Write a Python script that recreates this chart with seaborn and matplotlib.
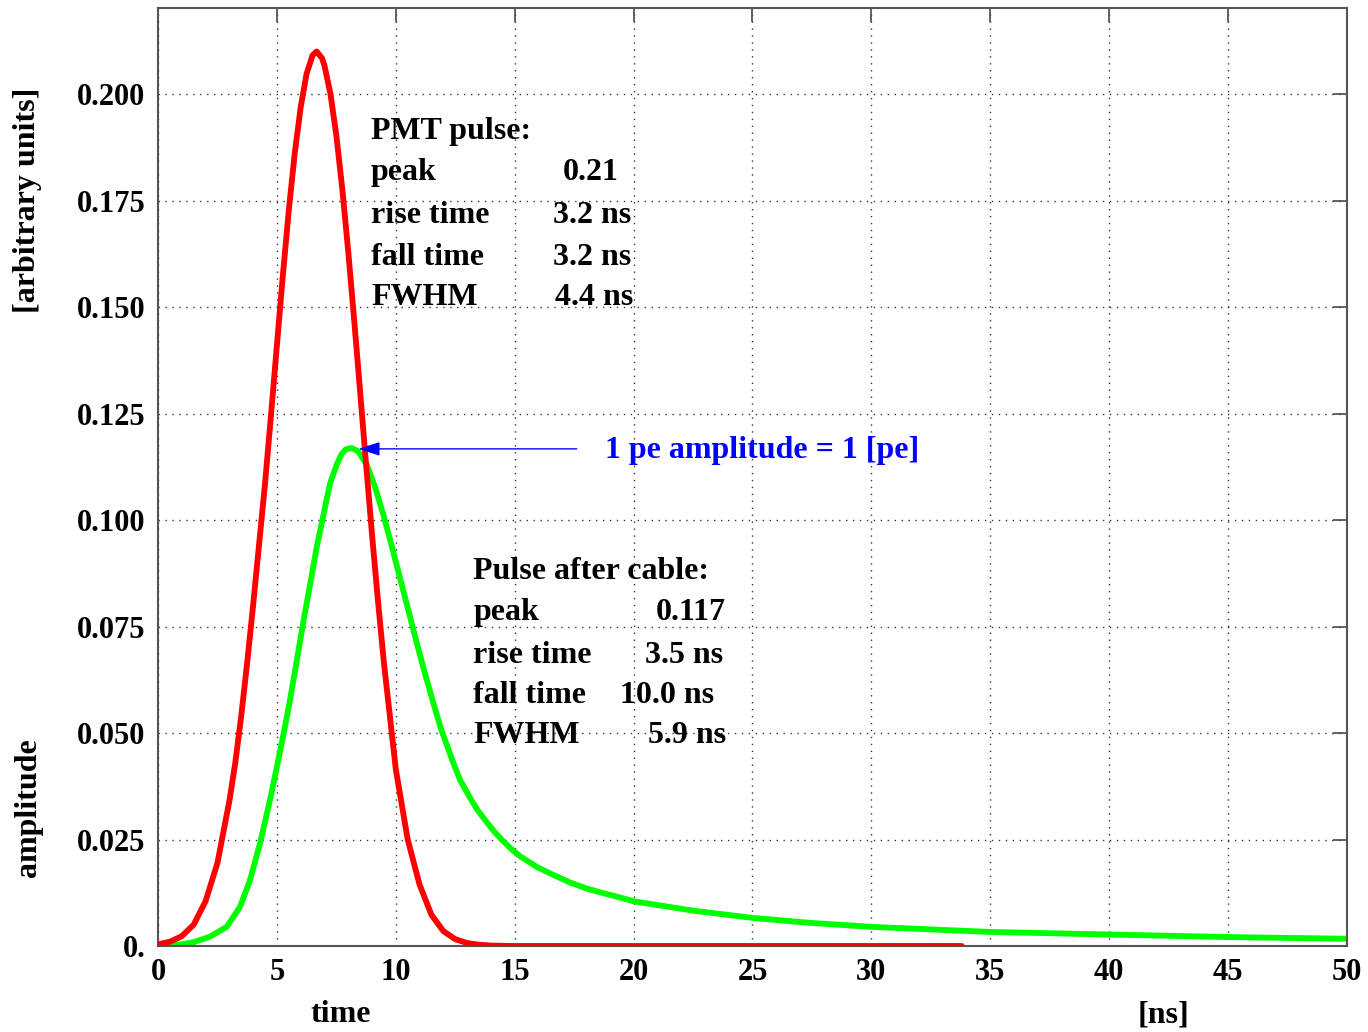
import matplotlib
matplotlib.use("Agg")
import matplotlib.pyplot as plt
import seaborn as sns
import pandas as pd

# ---- data ----
pmt_t = [0, 0.5, 1.0, 1.5, 2.0, 2.5, 3.0, 3.25, 3.5, 3.75, 4.0, 4.5, 4.75, 5.0, 5.25,
         5.5, 5.75, 6.0, 6.25, 6.5, 6.67, 6.9, 7.0, 7.25, 7.5, 7.75, 8.0, 8.25,
         8.5, 8.75, 9.0, 9.25, 9.5, 10.0, 10.5, 11.0, 11.5, 12.0, 12.5, 13.0,
         13.5, 14.0, 15.0, 20.0, 25.0, 30.0, 33.8]
pmt_y = [0.0004, 0.0010, 0.0023, 0.0050, 0.0105, 0.0195, 0.0340, 0.0430, 0.0540,
         0.0665, 0.0800, 0.1085, 0.1245, 0.1410, 0.1574, 0.1727, 0.1861, 0.1969,
         0.2048, 0.2091, 0.2100, 0.2084, 0.2067, 0.2001, 0.1903, 0.1777, 0.1630,
         0.1469, 0.1301, 0.1131, 0.0966, 0.0810, 0.0665, 0.0415, 0.0250, 0.0144,
         0.0073, 0.0035, 0.0016, 0.0007, 0.0003, 0.0001, 0.0, 0.0, 0.0, 0.0, 0.0]

cable_t = [0, 0.5, 1.0, 1.5, 2.19, 2.89, 3.45, 3.87, 4.29, 4.71, 5.06, 5.34, 5.55,
           6.11, 6.67, 7.23, 7.5, 7.72, 7.9, 8.14, 8.4, 8.77, 9.1, 9.47, 9.8,
           10.18, 10.88, 11.2, 11.58, 11.9, 12.35, 12.7, 13.12, 13.45, 13.82, 14.15,
           14.52, 14.85, 15.22, 15.92, 16.62, 17.33, 18.03, 18.73, 19.43, 20.0,
           22.5, 25.0, 27.5, 30.0, 35.0, 40.0, 45.0, 50.0]
cable_y = [0.0, 0.0001, 0.0004, 0.0009, 0.0022, 0.0045, 0.0092, 0.0155, 0.0241,
           0.0343, 0.0437, 0.0515, 0.0577, 0.0760, 0.0935, 0.1085, 0.1128, 0.1155,
           0.1166, 0.1169, 0.1162, 0.1131, 0.1082, 0.1014, 0.0945, 0.0863, 0.0712,
           0.0645, 0.0570, 0.0510, 0.0440, 0.0390, 0.0348, 0.0318, 0.0291, 0.0268,
           0.0246, 0.0228, 0.0211, 0.0186, 0.0167, 0.0149, 0.0135, 0.0124, 0.0114,
           0.0105, 0.0083, 0.0066, 0.0054, 0.0045, 0.0033, 0.0027, 0.0021, 0.0017]

xticks = [0, 5, 10, 15, 20, 25, 30, 35, 40, 45, 50]
xtick_labels = ["0", "5", "10", "15", "20", "25", "30", "35", "40", "45", "50"]
yticks = [0.0, 0.025, 0.05, 0.075, 0.1, 0.125, 0.15, 0.175, 0.2]
ytick_labels = ["0.", "0.025", "0.050", "0.075", "0.100", "0.125", "0.150", "0.175", "0.200"]

pmt_labels = ["peak", "rise time", "fall time", "FWHM"]
pmt_values = ["0.21", "3.2 ns", "3.2 ns", "4.4 ns"]
cable_labels = ["peak", "rise time", "fall time", "FWHM"]
cable_values = ["0.117", "3.5 ns", "10.0 ns", "5.9 ns"]

# ---- style ----
sns.set_theme(style="white")
plt.rcParams["font.family"] = ["Liberation Serif", "DejaVu Serif"]
plt.rcParams["font.weight"] = "bold"
plt.rcParams["text.color"] = "black"

fig = plt.figure(figsize=(13.68, 10.32), dpi=100)
ax = fig.add_axes([158 / 1368, 1 - 946 / 1032, (1347 - 158) / 1368, (946 - 8) / 1032])

df_pmt = pd.DataFrame({"t": pmt_t, "y": pmt_y})
df_cable = pd.DataFrame({"t": cable_t, "y": cable_y})
sns.lineplot(data=df_pmt, x="t", y="y", ax=ax, color="#ff0000", linewidth=4.2,
             sort=False, zorder=3)
sns.lineplot(data=df_cable, x="t", y="y", ax=ax, color="#00ff00", linewidth=4.2,
             sort=False, zorder=2)

ax.set_xlim(0, 50)
ax.set_ylim(0, 0.2202)
ax.set_xticks(xticks)
ax.set_xticklabels(xtick_labels)
ax.set_yticks(yticks)
ax.set_yticklabels(ytick_labels)
ax.set_xlabel("")
ax.set_ylabel("")

ax.grid(True, color="#333333", linestyle=(0, (1, 4)), linewidth=1.0)
ax.tick_params(axis="both", which="both", direction="in", length=10, width=1.3,
               color="#555555", labelcolor="black", top=True, right=True, labelsize=22)
ax.tick_params(axis="x", pad=9)
ax.tick_params(axis="y", pad=9)
for lab in ax.get_xticklabels() + ax.get_yticklabels():
    lab.set_fontweight("bold")
for sp in ax.spines.values():
    sp.set_color("#555555")
    sp.set_linewidth(1.5)
    sp.set_visible(True)

fs = 23
# PMT pulse block
ax.text(8.96, 0.1911, "PMT pulse:", fontsize=fs, fontweight="bold", va="center", ha="left")
pmt_ys = [0.1815, 0.1716, 0.1617, 0.1523]
pmt_vx = [17.03, 16.61, 16.61, 16.69]
for lab, val, yy, vx in zip(pmt_labels, pmt_values, pmt_ys, pmt_vx):
    ax.text(8.96, yy, lab, fontsize=fs, fontweight="bold", va="center", ha="left")
    ax.text(vx, yy, val, fontsize=fs, fontweight="bold", va="center", ha="left")

# cable block
ax.text(13.26, 0.0879, "Pulse after cable:", fontsize=fs, fontweight="bold", va="center", ha="left")
cab_ys = [0.0782, 0.0683, 0.0589, 0.0495]
cab_vx = [20.94, 20.48, 19.43, 20.61]
for lab, val, yy, vx in zip(cable_labels, cable_values, cab_ys, cab_vx):
    ax.text(13.26, yy, lab, fontsize=fs, fontweight="bold", va="center", ha="left")
    ax.text(vx, yy, val, fontsize=fs, fontweight="bold", va="center", ha="left")

# arrow + blue label
ax.annotate("", xy=(8.42, 0.1167), xytext=(17.61, 0.1167),
            arrowprops=dict(arrowstyle="-|>,head_length=1.1,head_width=0.35",
                            color="#0000ff", lw=1.0, shrinkA=0, shrinkB=0))
ax.text(18.80, 0.1164, "1 pe amplitude = 1 [pe]", fontsize=fs, fontweight="bold",
        color="#0000ff", va="center", ha="left")

# axis labels
fig.text(341 / 1368, 1 - 1015 / 1032, "time", fontsize=fs, fontweight="bold", ha="center", va="center")
fig.text(1164 / 1368, 1 - 1015 / 1032, "[ns]", fontsize=fs, fontweight="bold", ha="center", va="center")
fig.text(28 / 1368, 1 - 200 / 1032, "[arbitrary units]", fontsize=fs, fontweight="bold",
         rotation=90, ha="center", va="center")
fig.text(28 / 1368, 1 - 808 / 1032, "amplitude", fontsize=fs, fontweight="bold",
         rotation=90, ha="center", va="center")

fig.savefig("out.png", dpi=100, facecolor="white")
